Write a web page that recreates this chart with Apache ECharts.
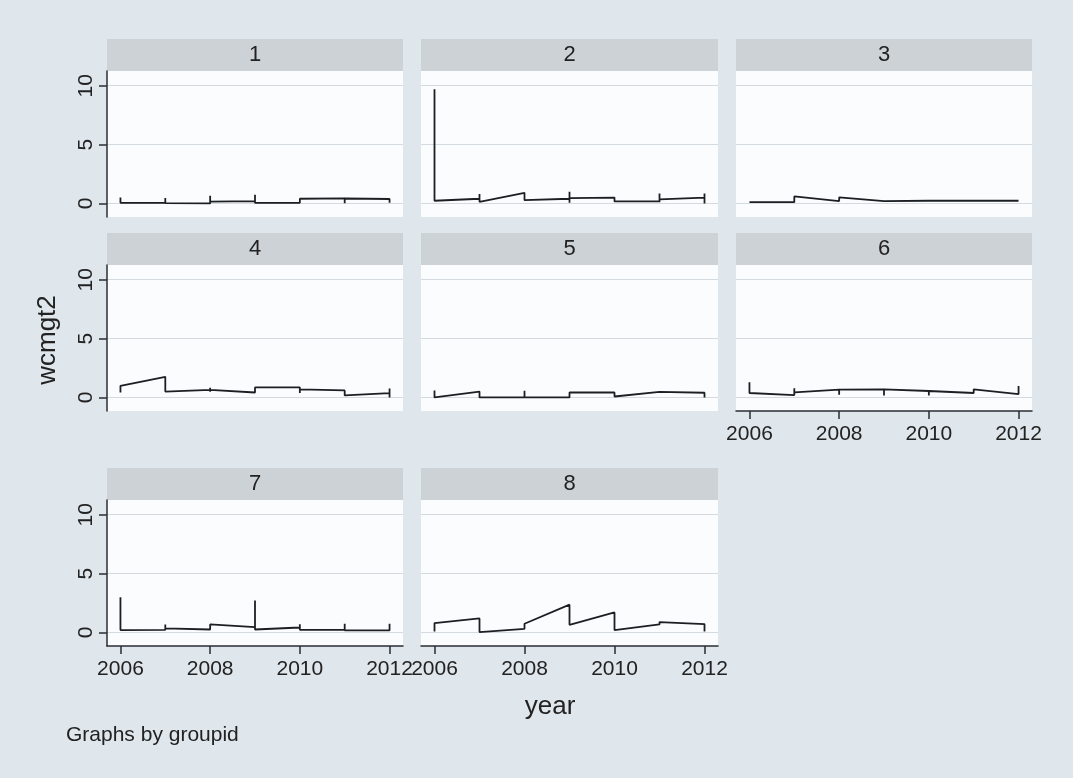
<!DOCTYPE html>
<html><head><meta charset="utf-8">
<script src="https://cdn.jsdelivr.net/npm/echarts@6/dist/echarts.min.js"></script>
<style>html,body{margin:0;padding:0;background:#dfe6ec}#c{width:1073px;height:778px}</style>
</head><body><div id="c"></div><script>
// ---- data ----
const groupIds = ['1','2','3','4','5','6','7','8'];
const xTicks = [2006, 2008, 2010, 2012];
const yTicks = [0, 5, 10];
const yTitle = 'wcmgt2';
const xTitle = 'year';
const note = 'Graphs by groupid';

const g1 = [[2006,0.5],[2006,0.05],[2007,0.05],[2007,0.46],[2007,0.02],[2008,0.0],[2008,0.65],[2008,0.15],[2009,0.2],[2009,0.75],[2009,0.05],[2010,0.05],[2010,0.4],[2011,0.43],[2011,0.51],[2011,0.02],[2011,0.42],[2012,0.38],[2012,0.05]];
const g2 = [[2006,9.7],[2006,0.23],[2007,0.4],[2007,0.8],[2007,0.14],[2008,0.9],[2008,0.28],[2009,0.4],[2009,1.0],[2009,0.05],[2009,0.45],[2010,0.5],[2010,0.17],[2011,0.17],[2011,0.85],[2011,0.1],[2011,0.35],[2012,0.5],[2012,0.85],[2012,0.0]];
const g3 = [[2006,0.11],[2007,0.11],[2007,0.6],[2008,0.2],[2008,0.51],[2009,0.2],[2009,0.12],[2009,0.2],[2010,0.23],[2010,0.34],[2011,0.23],[2012,0.23]];
const g4 = [[2006,0.42],[2006,0.99],[2007,1.75],[2007,0.5],[2008,0.65],[2008,0.82],[2008,0.48],[2008,0.65],[2009,0.42],[2009,0.85],[2010,0.85],[2010,0.37],[2010,0.68],[2011,0.6],[2011,0.17],[2012,0.37],[2012,0.76],[2012,0.0]];
const g5 = [[2006,0.6],[2006,0.0],[2007,0.5],[2007,0.0],[2008,0.0],[2008,0.57],[2008,0.0],[2009,0.0],[2009,0.42],[2010,0.42],[2010,0.08],[2011,0.48],[2011,0.37],[2012,0.4],[2012,0.0]];
const g6 = [[2006,1.3],[2006,0.38],[2007,0.2],[2007,0.78],[2007,0.2],[2007,0.43],[2008,0.66],[2008,0.72],[2008,0.23],[2008,0.66],[2009,0.69],[2009,0.75],[2009,0.17],[2009,0.69],[2010,0.55],[2010,0.69],[2010,0.17],[2010,0.55],[2011,0.38],[2011,0.69],[2012,0.29],[2012,0.98]];
const g7 = [[2006,3.0],[2006,0.2],[2007,0.22],[2007,0.68],[2007,0.34],[2008,0.25],[2008,0.68],[2009,0.45],[2009,2.72],[2009,0.25],[2010,0.42],[2010,0.7],[2010,0.22],[2011,0.22],[2011,0.73],[2011,0.17],[2012,0.17],[2012,0.73]];
const g8 = [[2006,0.08],[2006,0.8],[2007,1.19],[2007,0.03],[2008,0.31],[2008,0.74],[2009,2.36],[2009,0.65],[2010,1.7],[2010,0.2],[2011,0.68],[2011,0.88],[2012,0.71],[2012,0.08]];
const groups = [g1, g2, g3, g4, g5, g6, g7, g8];

// ---- layout ----
const FONT = '"Liberation Sans", Arial, sans-serif';
const colLeft = [107, 421, 736];
const colW = [296, 297, 296];
const rowTop = [71, 265, 500];
const rowH = 146;
const stripH = 32;
const showX = [false, false, false, false, false, true, true, true];
const plain = v => String(v);

const grids = [], xAxes = [], yAxes = [], series = [], graphics = [];
groups.forEach((data, i) => {
  const col = i % 3, row = Math.floor(i / 3);
  const left = colLeft[col], top = rowTop[row], w = colW[col];
  grids.push({left: left, top: top, width: w, height: rowH, show: true,
    backgroundColor: '#fafcfd', borderWidth: 0, containLabel: false});
  const xl = showX[i];
  xAxes.push({type: 'value', gridIndex: i, min: 2005.7, max: 2012.3,
    axisLine: {show: xl, onZero: false, lineStyle: {color: '#2a2e33', width: 1.5}},
    axisTick: {show: xl, length: 8, customValues: xTicks, lineStyle: {color: '#2a2e33', width: 1.5}},
    axisLabel: {show: xl, customValues: xTicks, formatter: plain, margin: 13, fontSize: 21, color: '#222', fontFamily: FONT},
    splitLine: {show: false}});
  const yl = col === 0;
  yAxes.push({type: 'value', gridIndex: i, min: -1.15, max: 11.25,
    axisLine: {show: yl, lineStyle: {color: '#2a2e33', width: 1.5}},
    axisTick: {show: yl, length: 8, customValues: yTicks, lineStyle: {color: '#2a2e33', width: 1.5}},
    axisLabel: {show: yl, customValues: yTicks, formatter: plain, rotate: 90, margin: 10, fontSize: 21, color: '#222', fontFamily: FONT},
    splitLine: {show: true, lineStyle: {color: '#d3dae0', width: 1}}});
  series.push({type: 'line', xAxisIndex: i, yAxisIndex: i, data: data, symbol: 'none',
    lineStyle: {color: '#1c1f22', width: 1.8}, animation: false, z: 5});
  graphics.push({type: 'rect', shape: {x: left, y: top - stripH, width: w, height: stripH},
    style: {fill: '#cdd2d7'}, z: -1});
  graphics.push({type: 'text', x: left + w / 2, y: top - stripH / 2,
    style: {text: groupIds[i], fontSize: 22, fill: '#222', fontFamily: FONT, align: 'center', verticalAlign: 'middle'}});
});
graphics.push({type: 'text', x: 48, y: 340, rotation: Math.PI / 2,
  style: {text: yTitle, fontSize: 26, fill: '#222', fontFamily: FONT, align: 'center', verticalAlign: 'middle'}});
graphics.push({type: 'text', x: 550, y: 707,
  style: {text: xTitle, fontSize: 26, fill: '#222', fontFamily: FONT, align: 'center', verticalAlign: 'middle'}});
graphics.push({type: 'text', x: 66, y: 735,
  style: {text: note, fontSize: 21, fill: '#222', fontFamily: FONT, align: 'left', verticalAlign: 'middle'}});

const chart = echarts.init(document.getElementById('c'), null, {renderer: 'canvas'});
chart.setOption({backgroundColor: '#dfe6ec', animation: false,
  grid: grids, xAxis: xAxes, yAxis: yAxes, series: series, graphic: graphics});
</script></body></html>
